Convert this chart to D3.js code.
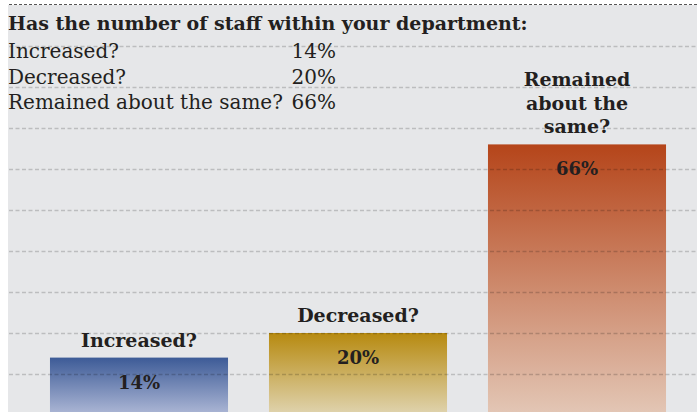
<!DOCTYPE html>
<html>
<head>
<meta charset="utf-8">
<script src="https://cdn.jsdelivr.net/npm/d3@7"></script>
<style>
  html, body { margin: 0; padding: 0; background: #fff; }
  svg { display: block; }
  text { fill: #231f20; font-family: "DejaVu Serif", serif; }
</style>
</head>
<body>
<div id="chart"></div>
<script>
// Survey answers: change in departmental staff numbers
const title = "Has the number of staff within your department:";
const categories = ["Increased?", "Decreased?", "Remained about the same?"];
const barLabels = [["Increased?"], ["Decreased?"], ["Remained", "about the", "same?"]];
const values = [14, 20, 66];
const gridTicks = [0, 10, 20, 30, 40, 50, 60, 70, 80, 90];
const topColors = ["#3d5b97", "#b78a10", "#b5451a"];
const bottomColors = ["#aeb8d6", "#e0d4b0", "#e3c7b6"];

const W = 697, H = 412;
const svg = d3.select("#chart").append("svg").attr("width", W).attr("height", H);

// panel background
svg.append("rect").attr("x", 8).attr("y", 5).attr("width", W - 8).attr("height", H - 5)
  .attr("fill", "#e6e7e9");
svg.append("line").attr("x1", 9).attr("x2", W).attr("y1", 4.5).attr("y2", 4.5)
  .attr("stroke", "#555").attr("stroke-width", 1).attr("stroke-dasharray", "3,2");

const x = d3.scaleBand().domain(categories).range([29.5, 686.5])
  .paddingInner(0.187).paddingOuter(0.0935);
const y = d3.scaleLinear().domain([0, 90]).range([415, 46]);

// vertical gradients per bar
const defs = svg.append("defs");
categories.forEach((c, i) => {
  const g = defs.append("linearGradient").attr("id", "grad" + i)
    .attr("x1", 0).attr("x2", 0).attr("y1", 0).attr("y2", 1);
  g.append("stop").attr("offset", "0%").attr("stop-color", topColors[i]);
  g.append("stop").attr("offset", "100%").attr("stop-color", bottomColors[i]);
});

svg.append("g").selectAll("rect").data(categories).join("rect")
  .attr("x", d => x(d))
  .attr("y", (d, i) => y(values[i]))
  .attr("width", x.bandwidth())
  .attr("height", (d, i) => y(0) - y(values[i]))
  .attr("fill", (d, i) => `url(#grad${i})`);

// dashed gridlines drawn over the bars
svg.append("g").selectAll("line").data(gridTicks).join("line")
  .attr("x1", 9).attr("x2", W)
  .attr("y1", d => Math.round(y(d)) + 0.5).attr("y2", d => Math.round(y(d)) + 0.5)
  .attr("stroke", "#000").attr("stroke-opacity", 0.18)
  .attr("stroke-width", 1.3).attr("stroke-dasharray", "4,2.5");

// title and answer list
svg.append("text").attr("x", 8).attr("y", 30)
  .attr("font-size", 19).attr("font-weight", "bold").text(title);

const list = svg.append("g");
const listY = [58, 83.5, 109];
categories.forEach((c, i) => {
  list.append("text").attr("x", 8).attr("y", listY[i]).attr("font-size", 20).text(c);
  list.append("text").attr("x", 336).attr("y", listY[i]).attr("font-size", 20)
    .attr("text-anchor", "end").text(values[i] + "%");
});

// bar category labels above bars
categories.forEach((c, i) => {
  const lines = barLabels[i];
  const cx = x(c) + x.bandwidth() / 2;
  const top = y(values[i]);
  lines.forEach((ln, j) => {
    svg.append("text").attr("x", cx)
      .attr("y", top - 11 - (lines.length - 1 - j) * 23.5)
      .attr("text-anchor", "middle").attr("font-size", 19).attr("font-weight", "bold")
      .text(ln);
  });
  svg.append("text").attr("x", cx).attr("y", top + 31)
    .attr("text-anchor", "middle").attr("font-size", 18).attr("font-weight", "bold")
    .text(values[i] + "%");
});
</script>
</body>
</html>
